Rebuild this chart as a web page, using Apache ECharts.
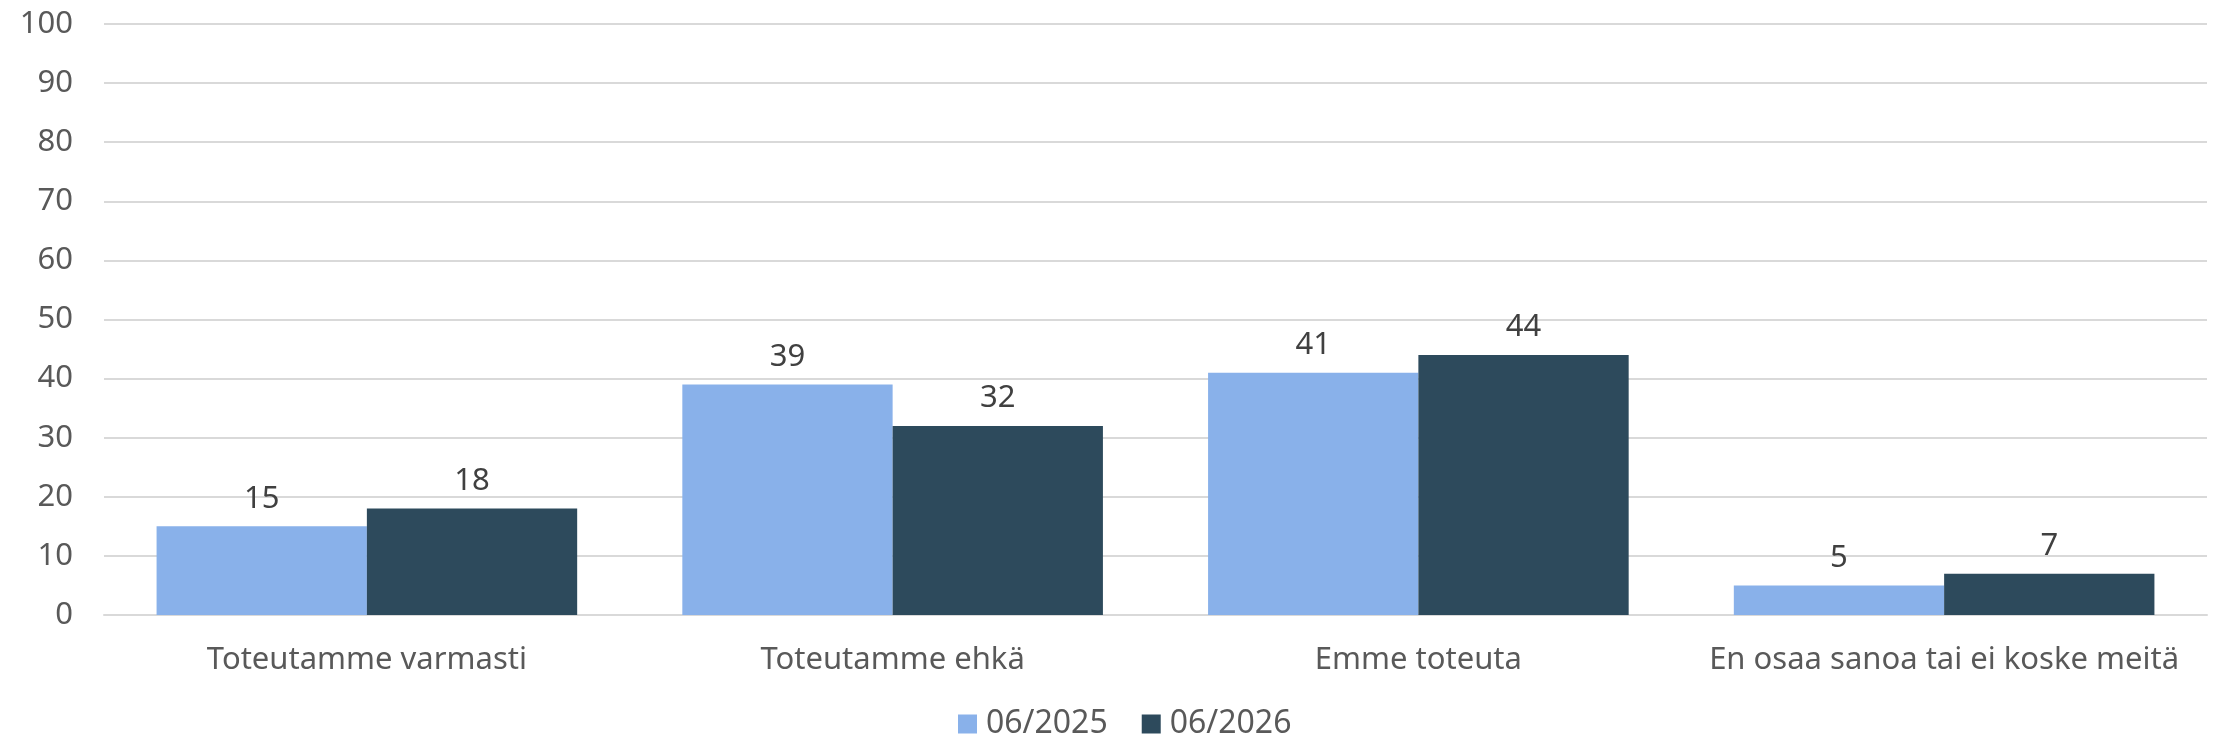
<!DOCTYPE html>
<html>
<head>
<meta charset="utf-8">
<script src="https://cdn.jsdelivr.net/npm/echarts@6/dist/echarts.min.js"></script>
<style>
  html, body { margin: 0; padding: 0; background: #fff; }
  #chart { width: 2216px; height: 739px; }
</style>
</head>
<body>
<div id="chart"></div>
<script>
const categories = ['Toteutamme varmasti', 'Toteutamme ehkä', 'Emme toteuta', 'En osaa sanoa tai ei koske meitä']
const seriesNames = ['06/2025', '06/2026']
const values2025 = [15, 39, 41, 5]
const values2026 = [18, 32, 44, 7]
const yTicks = { min: 0, max: 100, interval: 10 }

const colors = ['#89b1ea', '#2d4a5c']
const font = '"Noto Sans", Roboto, sans-serif'
const fs = 31

const chart = echarts.init(document.getElementById('chart'))

const makeSeries = (name, data, color) => ({
  name,
  type: 'bar',
  data,
  barGap: '0%',
  barCategoryGap: '20%',
  itemStyle: { color },
  label: {
    show: true,
    position: 'top',
    distance: 12,
    color: '#404040',
    fontSize: fs,
    fontFamily: font
  }
})

chart.setOption({
  animation: false,
  color: colors,
  grid: { left: 104, right: 9, top: 24, bottom: 124 },
  legend: {
    bottom: -6,
    left: 953,
    itemWidth: 19,
    itemHeight: 19,
    itemGap: 34,
    icon: 'rect',
    textStyle: { color: '#595959', fontSize: 32, fontFamily: font, padding: [0, 0, 0, 4] },
    data: seriesNames
  },
  xAxis: {
    type: 'category',
    data: categories,
    axisLine: { lineStyle: { color: '#d9d9d9', width: 2 } },
    axisTick: { show: false },
    axisLabel: { color: '#595959', fontSize: fs, fontFamily: font, margin: 30, interval: 0 }
  },
  yAxis: {
    type: 'value',
    min: yTicks.min,
    max: yTicks.max,
    interval: yTicks.interval,
    axisLine: { show: false },
    axisTick: { show: false },
    axisLabel: { color: '#595959', fontSize: fs, fontFamily: font, margin: 31 },
    splitLine: { lineStyle: { color: '#d9d9d9', width: 2 } }
  },
  series: [
    makeSeries(seriesNames[0], values2025, colors[0]),
    makeSeries(seriesNames[1], values2026, colors[1])
  ]
})
</script>
</body>
</html>
